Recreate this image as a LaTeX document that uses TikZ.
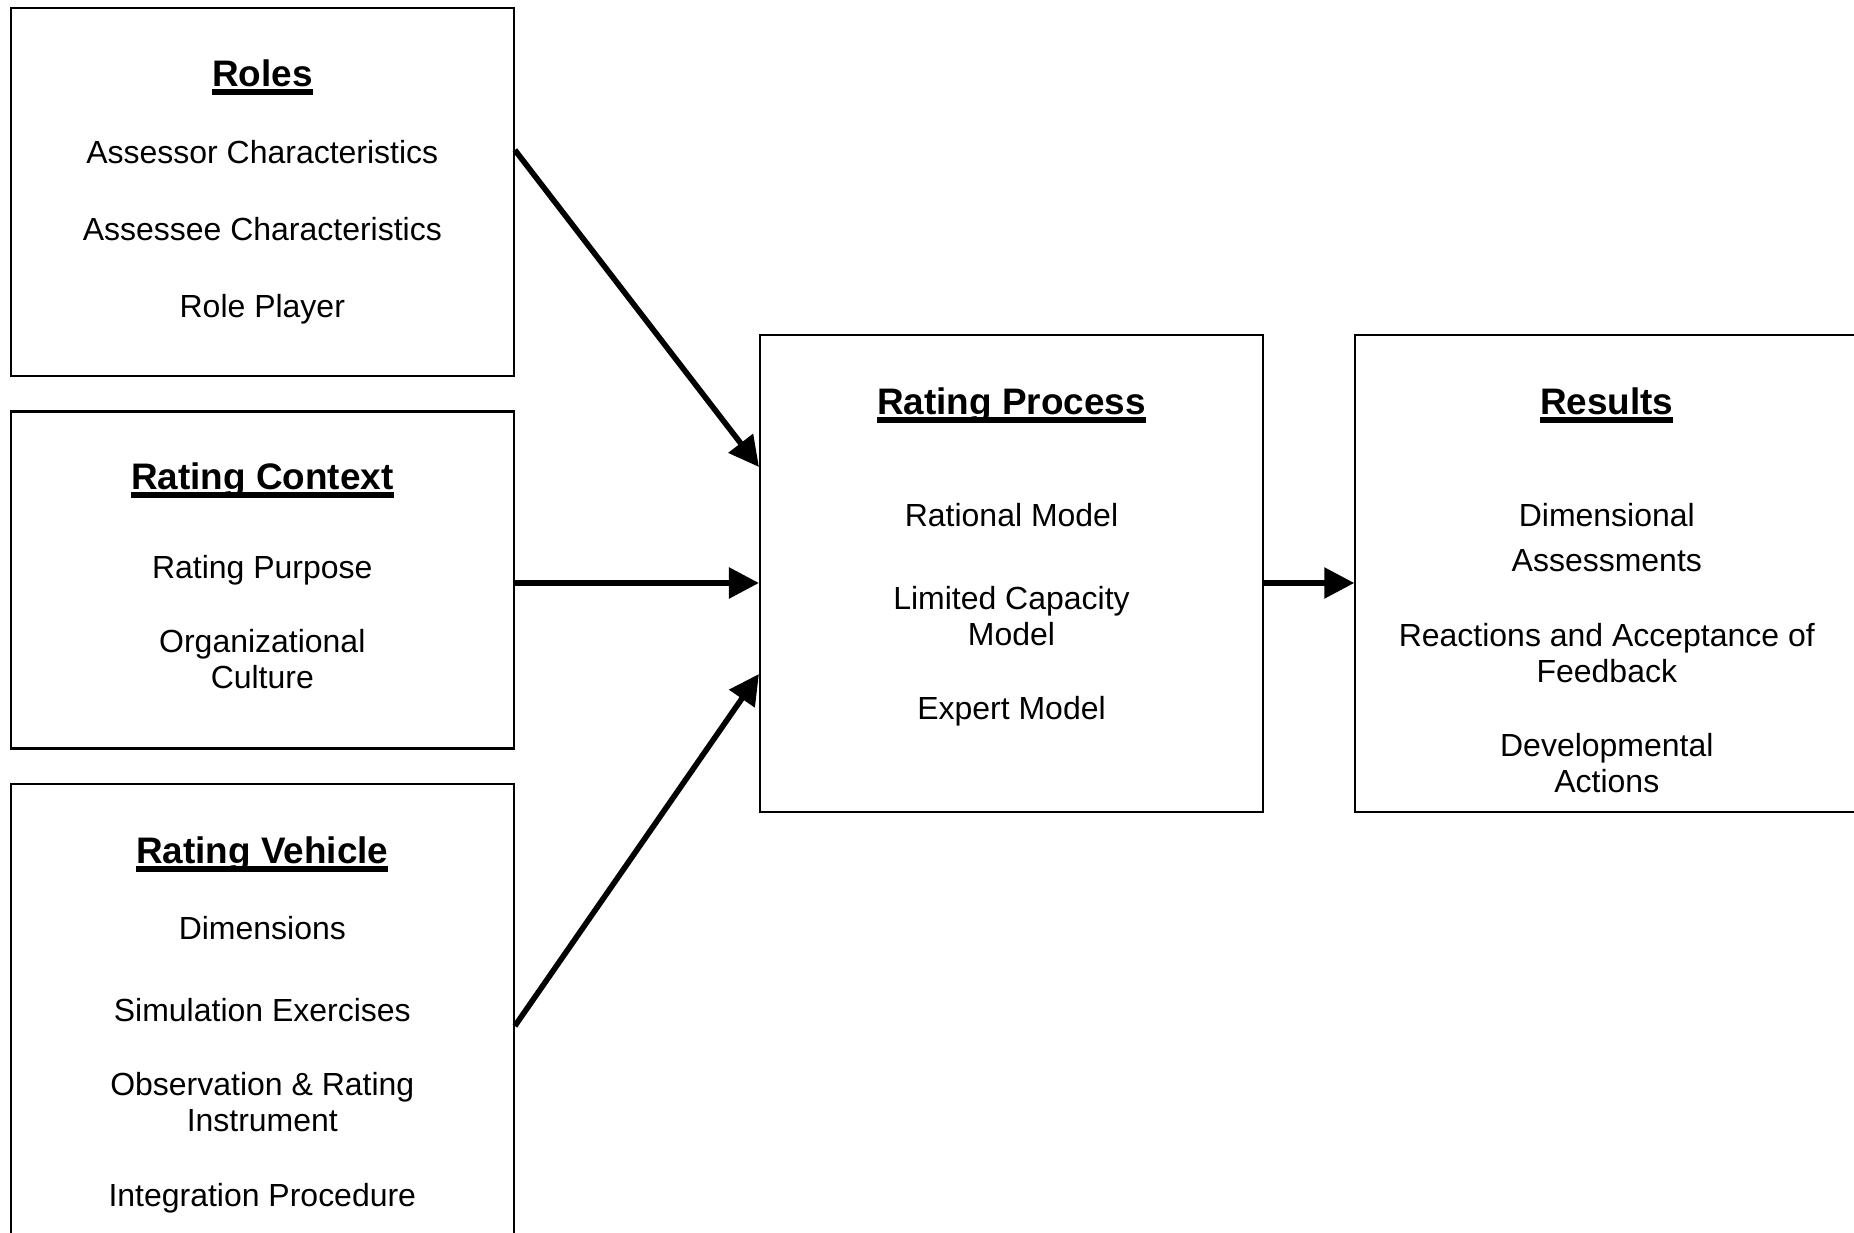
\documentclass[tikz,border=0pt]{standalone}
\usepackage{fontspec}
\setmainfont{Liberation Sans}
\usetikzlibrary{arrows.meta}

\newsavebox{\ttlbox}
\newcommand{\ttlline}[1]{\sbox{\ttlbox}{#1}\rlap{\vrule width\wd\ttlbox height -0.08em depth 0.22em}\usebox{\ttlbox}}

\begin{document}
\begin{tikzpicture}[
    box/.style={rectangle, draw=black, line width=0.6pt, minimum width=5.03cm, inner sep=0pt},
    ttl/.style={anchor=north, inner sep=0pt, font=\fontsize{10.5}{12}\selectfont\bfseries},
    item/.style={anchor=north, inner sep=0pt, align=center, font=\fontsize{9.1}{10.4}\selectfont},
    arrow/.style={-{Triangle[length=3mm, width=3mm]}, line width=1.6pt}
]
\useasboundingbox (0,0) rectangle (18.54,12.32);
\clip (0,0) rectangle (18.54,12.32);

% Left column (x = 2.623)
\node[box, minimum height=3.68cm] (roles) at (2.623, 10.40) {};
\node[ttl] (rolesT) at (2.623, 11.73) {\ttlline{Roles}};
\node[item] (assessor) at (2.623, 10.925) {Assessor Characteristics};
\node[item] (assessee) at (2.623, 10.155) {Assessee Characteristics};
\node[item] (player) at (2.623, 9.385) {Role Player};

\node[box, minimum height=3.37cm] (context) at (2.623, 6.52) {};
\node[ttl] (contextT) at (2.623, 7.70) {\ttlline{Rating Context}};
\node[item] (purpose) at (2.623, 6.775) {Rating Purpose};
\node[item] (culture) at (2.623, 6.035) {Organizational\\Culture};

\node[box, minimum height=4.78cm] (vehicle) at (2.623, 2.09) {};
\node[ttl] (vehicleT) at (2.623, 3.96) {\ttlline{Rating Vehicle}};
\node[item] (dims) at (2.623, 3.165) {Dimensions};
\node[item] (exercises) at (2.623, 2.345) {Simulation Exercises};
\node[item] (instrument) at (2.623, 1.605) {Observation \& Rating\\Instrument};
\node[item] (integration) at (2.623, 0.495) {Integration Procedure};

% Middle (x = 10.115)
\node[box, minimum height=4.77cm] (process) at (10.115, 6.585) {};
\node[ttl] (processT) at (10.115, 8.45) {\ttlline{Rating Process}};
\node[item] (rational) at (10.115, 7.295) {Rational Model};
\node[item] (limited) at (10.115, 6.465) {Limited Capacity\\Model};
\node[item] (expert) at (10.115, 5.365) {Expert Model};

% Right (x = 16.068)
\node[box, minimum height=4.77cm] (results) at (16.068, 6.585) {};
\node[ttl] (resultsT) at (16.068, 8.45) {\ttlline{Results}};
\node[item] (dimassess) at (16.068, 7.295) {Dimensional\\[2.4pt]Assessments};
\node[item] (reactions) at (16.068, 6.095) {Reactions and Acceptance of\\Feedback};
\node[item] (actions) at (16.068, 4.995) {Developmental\\Actions};

% Arrows into the rating process
\draw[arrow] ([yshift=4.2mm]roles.east) -- ([yshift=10.65mm]process.west);
\draw[arrow] ([yshift=-0.3mm]context.east) -- ([yshift=-0.95mm]process.west);
\draw[arrow] ([yshift=-0.3mm]vehicle.east) -- ([yshift=-10.05mm]process.west);

% Output
\draw[arrow] ([yshift=-0.95mm]process.east) -- ([yshift=-0.95mm]results.west);

\end{tikzpicture}
\end{document}
